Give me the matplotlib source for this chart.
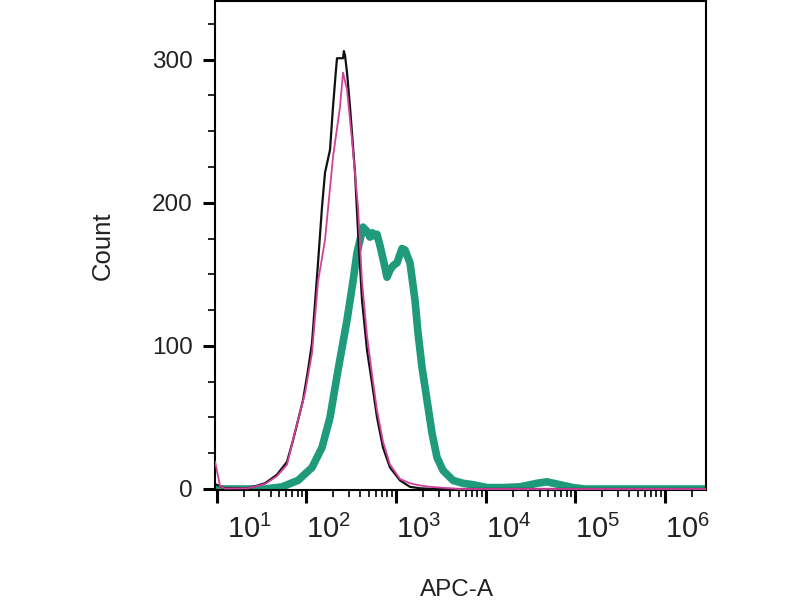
import numpy as np
import matplotlib
matplotlib.use("Agg")
import matplotlib.pyplot as plt
from matplotlib.ticker import FixedLocator, NullFormatter
from matplotlib.transforms import ScaledTranslation

plt.rcParams['font.family'] = ['Liberation Sans', 'DejaVu Sans']
plt.rcParams['mathtext.fontset'] = 'custom'
plt.rcParams['mathtext.rm'] = 'Liberation Sans'
plt.rcParams['mathtext.it'] = 'Liberation Sans:italic'
plt.rcParams['mathtext.bf'] = 'Liberation Sans:bold'

# ---------------- data (APC-A intensity, count) ----------------
black_x = [9.6, 10, 12.4, 22.3, 34.6, 47.0, 60.8, 71.0, 80.7, 91.7, 104.3, 115.6,
           124.9, 134.9, 149.4, 161.4, 183.5, 198.2, 212, 219.6, 237, 256.2, 262,
           269.8, 284, 306.7, 348.7, 376.7, 417.4, 474.7, 539.8, 613.7, 715.8,
           857, 1108, 1432, 1851, 2600, 2.9e6]
black_y = [3, 3, 0.5, 0.5, 4, 10, 19, 34, 48, 62, 83, 102,
           130, 158, 197, 221, 237, 267, 290, 301, 301, 301, 306,
           303, 291, 267, 221, 180, 132, 97, 74, 50, 29,
           15, 6, 1.5, 0.5, 0, 0]

pink_x = [9.6, 10.9, 12.4, 22.3, 34.6, 47.0, 60.8, 74.7, 96.6, 115.6, 134.9,
          161.4, 198.2, 237.2, 256.2, 284, 322.8, 376.7, 417.4, 474.7, 539.8,
          613.7, 715.8, 857, 1108, 1432, 1851, 2393, 4000, 5000, 2.9e6]
pink_y = [19, 2, 0.3, 0.5, 3.5, 9, 17, 40, 67, 95, 145,
          174, 232, 267, 291, 279, 244, 197, 145, 107, 80,
          55, 33, 17, 7, 4, 2.5, 1.5, 0.5, 0, 0]

teal_x = [9.6, 34.6, 53.5, 80.7, 115.6, 149.4, 183.5, 225.4, 284, 331, 367,
          396.6, 428, 474.7, 512.7, 545, 568, 613.7, 662.7, 734, 793, 857,
          925.5, 1025, 1166, 1259, 1432, 1628, 1759, 1949, 2216, 2519, 2865,
          3342, 4320, 5585, 7220, 10340, 15600, 24140, 37360, 48300, 67440,
          94170, 128200, 2.9e6]
teal_y = [0, 0, 1.5, 6, 15, 29, 50, 83, 118, 145, 165,
          174, 183, 180, 176, 179, 177, 178, 170, 158, 148, 153,
          156, 158, 168, 167, 158, 132, 109, 85, 62, 39, 22,
          13, 6, 4, 3, 1, 1, 1.5, 4, 5, 3,
          1, 0, 0]

x_ticks = [1e1, 1e2, 1e3, 1e4, 1e5, 1e6]
x_labels = [r'$\mathregular{10^{1}}$', r'$\mathregular{10^{2}}$', r'$\mathregular{10^{3}}$',
            r'$\mathregular{10^{4}}$', r'$\mathregular{10^{5}}$', r'$\mathregular{10^{6}}$']
y_ticks = [0, 100, 200, 300]
y_minor = [25, 50, 75, 125, 150, 175, 225, 250, 275, 325]

# ---------------- figure ----------------
fig = plt.figure(figsize=(8, 6), dpi=100)
ax = fig.add_axes([215/800, 110/600, 491/800, 489/600])

ax.plot(teal_x, teal_y, color='#1f9a7b', lw=5.5, solid_joinstyle='round', zorder=2)
ax.plot(black_x, black_y, color='#111111', lw=1.6, zorder=3)
ax.plot(pink_x, pink_y, color='#d2409a', lw=1.3, zorder=4)

ax.set_xscale('log')
ax.set_xlim(10**0.981, 10**6.457)
ax.set_ylim(-0.7, 341)

ax.set_xticks(x_ticks, x_labels, ha='left')
minors = [m * 10**e for e in range(0, 7) for m in range(2, 10)]
ax.xaxis.set_minor_locator(FixedLocator(minors))
ax.xaxis.set_minor_formatter(NullFormatter())
ax.set_yticks(y_ticks)
ax.yaxis.set_minor_locator(FixedLocator(y_minor))

txtc = '#222222'
ax.tick_params(axis='both', which='major', direction='out', length=9, width=2.2,
               colors='black', labelcolor=txtc)
ax.tick_params(axis='both', which='minor', direction='out', length=5, width=1.2,
               colors='black')
ax.tick_params(axis='x', which='major', pad=9, labelsize=21)
ax.tick_params(axis='y', which='major', pad=7, labelsize=17.5)

# first x label sits a little right of its tick
lab0 = ax.xaxis.get_major_ticks()[0].label1
lab0.set_transform(lab0.get_transform() + ScaledTranslation(0.10, 0, fig.dpi_scale_trans))

for s in ax.spines.values():
    s.set_linewidth(1.5)
    s.set_color('black')

ax.set_xlabel('APC-A', fontsize=17.5, color=txtc)
ax.xaxis.set_label_coords(0.493, -0.182)
ax.set_ylabel('Count', fontsize=18.5, color=txtc)
ax.yaxis.set_label_coords(-0.204, 0.5)

fig.savefig('out.png', dpi=100)
